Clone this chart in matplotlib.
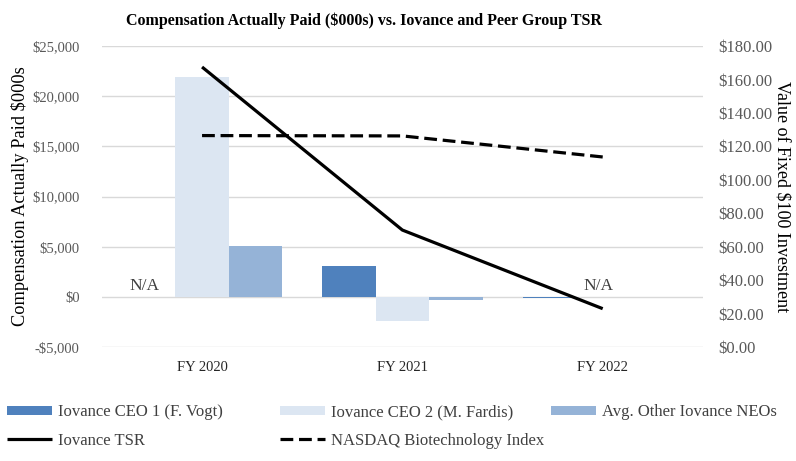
import numpy as np
import matplotlib
matplotlib.use("Agg")
import matplotlib.pyplot as plt
from matplotlib.ticker import FuncFormatter

# =========================
# Data
# =========================
years = ["FY 2020", "FY 2021", "FY 2022"]

ceo1 = [np.nan, 3100, -100]      # Iovance CEO 1 (F. Vogt)
ceo2 = [21950, -2400, np.nan]    # Iovance CEO 2 (M. Fardis)
neos = [5050, -350, 0]           # Avg. Other Iovance NEOs

tsr = [167.5, 70, 23]            # Iovance TSR
nasdaq = [126.5, 126.3, 113.7]   # NASDAQ Biotechnology Index

na_flags = [(0, 0), (2, 1)]      # (year index, bar index) shown as N/A

# =========================
# Style
# =========================
plt.rcParams["font.family"] = ["Liberation Serif", "DejaVu Serif"]

c_ceo1 = "#4f81bd"
c_ceo2 = "#dce6f2"
c_neo = "#95b3d7"
grid_c = "#d9d9d9"
tick_c = "#595959"

fig = plt.figure(figsize=(7.96, 4.61), dpi=100)
ax = fig.add_axes([0.128, 0.247, 0.755, 0.653])
ax2 = ax.twinx()

x = np.arange(len(years))
w = 0.8 / 3

b1 = ax.bar(x - w, ceo1, w, color=c_ceo1, label="Iovance CEO 1 (F. Vogt)", zorder=2)
b2 = ax.bar(x, ceo2, w, color=c_ceo2, label="Iovance CEO 2 (M. Fardis)", zorder=2)
b3 = ax.bar(x + w, neos, w, color=c_neo, label="Avg. Other Iovance NEOs", zorder=2)

offsets = [-w, 0, w]
for i, j in na_flags:
    ax.text(x[i] + offsets[j] - 0.02, 250, "N/A", ha="center", va="bottom",
            fontsize=12.5, color="#404040", zorder=3)

ax.set_ylim(-5000, 25000)
ax.set_yticks(np.arange(-5000, 25001, 5000))
ax.yaxis.set_major_formatter(FuncFormatter(
    lambda v, p: ("-$" if v < 0 else "$") + f"{abs(v):,.0f}"))
ax.set_xlim(-0.5, 2.5)
ax.set_xticks(x)
ax.set_xticklabels(years)
ax.grid(axis="y", color=grid_c, lw=1, zorder=0)
ax.set_axisbelow(True)

l1, = ax2.plot(x, tsr, color="black", lw=2.3, label="Iovance TSR",
               solid_capstyle="butt")
l2, = ax2.plot(x, nasdaq, color="black", lw=2.3, ls=(0, (4, 1.8)),
               label="NASDAQ Biotechnology Index")
ax2.set_ylim(0, 180)
ax2.set_yticks(np.arange(0, 181, 20))
ax2.yaxis.set_major_formatter(FuncFormatter(lambda v, p: f"${v:.2f}"))

for a in (ax, ax2):
    for s in a.spines.values():
        s.set_visible(False)
    a.tick_params(length=0, labelsize=10.5, colors=tick_c)
ax.tick_params(axis="x", colors="#262626", pad=10)
ax.tick_params(axis="y", pad=16)
ax2.tick_params(axis="y", pad=11, labelsize=12)

ax.set_ylabel("Compensation Actually Paid $000s", fontsize=13.2, labelpad=2.5)
ax2.set_ylabel("Value of Fixed $100 Investment", fontsize=13,
               rotation=270, labelpad=13)

fig.text(0.457, 0.955, "Compensation Actually Paid ($000s) vs. Iovance and Peer Group TSR",
         ha="center", va="center", fontsize=11.5, fontweight="bold")

# legend in three fixed columns, like the original
groups = [([b1, l1], 0.0), ([b2, l2], 0.343), ([b3], 0.684)]
for hs, x0 in groups:
    leg = fig.legend(handles=hs, loc="upper left", bbox_to_anchor=(x0, 0.138),
                     frameon=False, fontsize=12, handlelength=2.7,
                     handleheight=0.45, handletextpad=0.35, labelspacing=0.75,
                     borderaxespad=0.0)
    for t in leg.get_texts():
        t.set_color("#404040")

plt.savefig("out.png", dpi=100)
